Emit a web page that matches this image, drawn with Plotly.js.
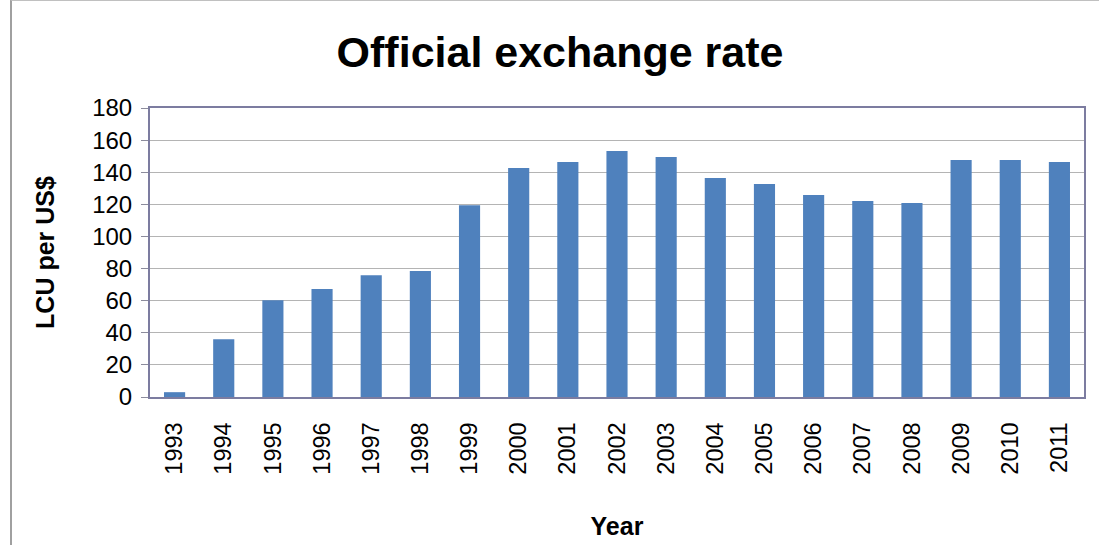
<!DOCTYPE html>
<html>
<head>
<meta charset="utf-8">
<script src="https://cdn.plot.ly/plotly-3.0.1.min.js"></script>
<style>
  html, body { margin: 0; padding: 0; background: #ffffff; }
  #wrap { position: absolute; left: 0; top: 0; width: 1099px; height: 546px; }
  #frame { position: absolute; left: 10px; top: 0px; width: 1089px; height: 545px;
           border-left: 2px solid #a0a0a0; border-top: 1px solid #c0c0c0; box-sizing: border-box; pointer-events: none; }
  #chart { position: absolute; left: 0; top: 0; width: 1099px; height: 546px; }
</style>
</head>
<body>
<div id="wrap">
  <div id="chart"></div>
  <div id="frame"></div>
</div>
<script>
const years = ["1993","1994","1995","1996","1997","1998","1999","2000","2001","2002",
               "2003","2004","2005","2006","2007","2008","2009","2010","2011"];
const rates = [3, 36, 60.3, 67.2, 75.9, 78.4, 119.5, 142.6, 146.4, 153.2,
               149.5, 136.4, 132.6, 125.8, 122.0, 120.8, 147.6, 147.6, 146.4];
const yTicks = [0, 20, 40, 60, 80, 100, 120, 140, 160, 180];

const font = "Liberation Sans, Arial, Helvetica, sans-serif";

const trace = {
  type: "bar",
  x: years,
  y: rates,
  marker: { color: "#4f81bd", line: { width: 0 } },
  hoverinfo: "x+y"
};

const layout = {
  width: 1099,
  height: 546,
  margin: { l: 150, r: 15, t: 108, b: 149, pad: 0 },
  paper_bgcolor: "rgba(0,0,0,0)",
  plot_bgcolor: "#ffffff",
  bargap: 0.57,
  showlegend: false,
  font: { family: font, color: "#000000" },
  title: {
    text: "<b>Official exchange rate</b>",
    font: { family: font, size: 43, color: "#000000" },
    x: 0.5096, xanchor: "center",
    y: 0.905, yanchor: "middle"
  },
  xaxis: {
    type: "category",
    tickvals: years,
    ticktext: years,
    tickangle: -90,
    tickfont: { family: font, size: 23.5, color: "#000000" },
    showgrid: false,
    showline: true,
    linecolor: "#7c7ca0",
    linewidth: 2,
    mirror: true,
    ticks: "",
    ticklabelstandoff: 14,
    title: {
      text: "<b>Year</b>",
      font: { family: font, size: 25, color: "#000000" },
      standoff: 44
    }
  },
  yaxis: {
    range: [0, 180],
    tickvals: yTicks,
    ticktext: yTicks.map(String),
    tickfont: { family: font, size: 24, color: "#000000" },
    showgrid: true,
    gridcolor: "#b4b4b4",
    gridwidth: 1,
    zeroline: false,
    showline: true,
    linecolor: "#7c7ca0",
    linewidth: 2,
    mirror: true,
    ticks: "outside",
    ticklen: 7,
    tickcolor: "#8c8c9c",
    tickwidth: 1,
    ticklabelstandoff: 4,
    title: {
      text: "<b>LCU per US$</b>",
      font: { family: font, size: 25, color: "#000000" },
      standoff: 30
    }
  }
};

Plotly.newPlot("chart", [trace], layout, { staticPlot: true, displayModeBar: false });
</script>
</body>
</html>
